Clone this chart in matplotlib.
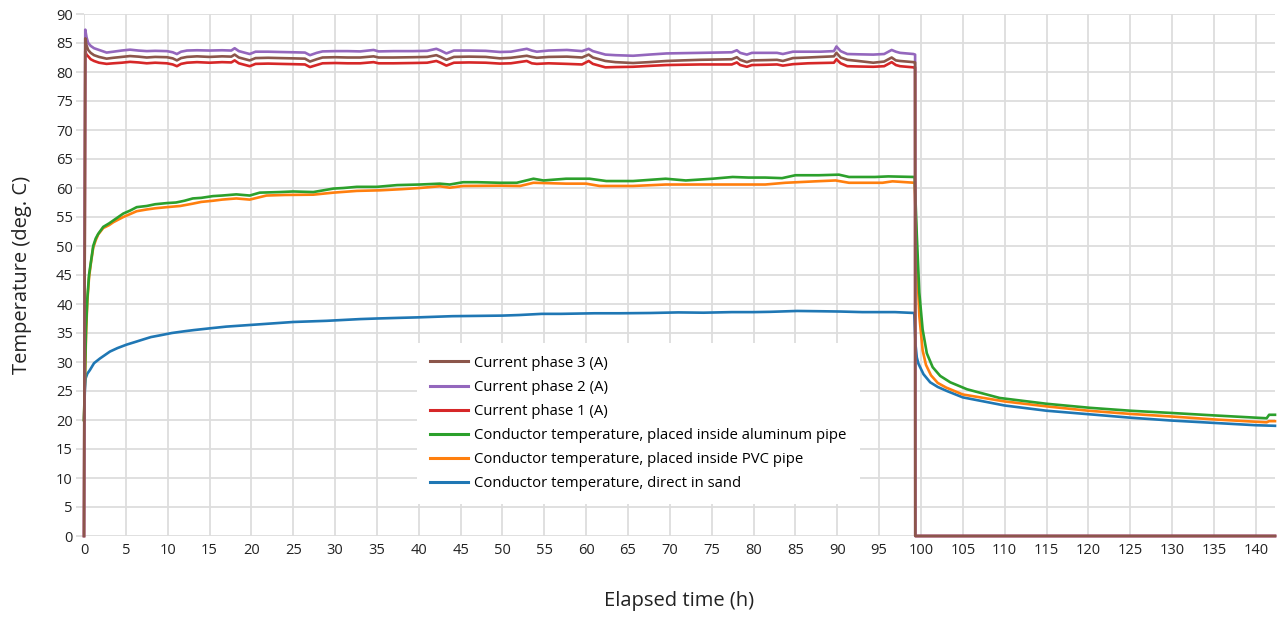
import matplotlib
matplotlib.use("Agg")
import matplotlib.pyplot as plt
from matplotlib.ticker import MultipleLocator

plt.rcParams['font.family'] = ['Open Sans', 'DejaVu Sans']

# ---- Load currents (A) ----
t_current = [0, 0.15, 0.3, 0.5, 0.8, 1.2, 1.8, 2.7, 3.5, 4.5, 5.5, 6.5, 7.5, 8.5, 9.9,
             10.6, 11.1, 11.6, 12.3, 13.5, 15.0, 16.5, 17.6, 18.0, 18.5, 19.8, 20.5,
             22.0, 23.4, 25.0, 26.4, 27.0, 27.8, 28.5, 30.0, 31.5, 33.0, 34.6, 35.2,
             37.0, 39.3, 41.0, 42.1, 42.6, 43.3, 44.2, 46.0, 48.0, 49.7, 51.0, 52.9,
             53.5, 54.1, 55.5, 57.7, 59.5, 60.3, 60.8, 62.3, 63.5, 65.6, 67.5, 69.6,
             71.5, 73.6, 75.5, 77.4, 78.0, 78.4, 79.2, 79.8, 81.5, 82.8, 83.5, 84.7,
             86.5, 88.0, 89.6, 89.9, 90.4, 91.2, 92.5, 94.3, 95.6, 96.5, 97.0, 97.5,
             99.1, 99.3, 99.32, 142.3]

phase2 = [0, 87.3, 86.0, 85.0, 84.5, 84.1, 83.8, 83.35, 83.5, 83.7, 83.85, 83.7, 83.6, 83.65, 83.6,
          83.4, 83.1, 83.5, 83.7, 83.75, 83.7, 83.75, 83.7, 84.1, 83.6, 83.1, 83.5,
          83.5, 83.45, 83.4, 83.35, 82.9, 83.3, 83.55, 83.6, 83.6, 83.55, 83.8, 83.55,
          83.6, 83.6, 83.65, 84.0, 83.7, 83.2, 83.7, 83.7, 83.65, 83.45, 83.5, 84.0,
          83.7, 83.5, 83.7, 83.8, 83.6, 84.0, 83.6, 83.0, 82.9, 82.8, 83.0, 83.2,
          83.25, 83.3, 83.35, 83.4, 83.75, 83.3, 83.0, 83.3, 83.3, 83.3, 83.1, 83.5,
          83.5, 83.5, 83.6, 84.4, 83.6, 83.1, 83.05, 83.0, 83.1, 83.8, 83.5, 83.3,
          83.1, 83.0, 0, 0]

phase3 = [0, 85.8, 84.6, 83.8, 83.3, 82.9, 82.6, 82.3, 82.45, 82.6, 82.75, 82.65, 82.5, 82.6, 82.55,
          82.35, 82.0, 82.4, 82.6, 82.7, 82.6, 82.7, 82.65, 83.0, 82.5, 82.0, 82.4,
          82.45, 82.4, 82.35, 82.3, 81.8, 82.2, 82.5, 82.55, 82.5, 82.5, 82.7, 82.5,
          82.5, 82.55, 82.6, 82.9, 82.6, 82.1, 82.6, 82.65, 82.6, 82.35, 82.45, 82.8,
          82.6, 82.45, 82.6, 82.65, 82.5, 83.0, 82.5, 81.9, 81.7, 81.55, 81.7, 81.9,
          82.0, 82.1, 82.15, 82.2, 82.55, 82.1, 81.7, 82.0, 82.05, 82.1, 81.9, 82.4,
          82.5, 82.6, 82.7, 83.3, 82.5, 82.1, 81.9, 81.6, 81.8, 82.5, 82.0, 81.9,
          81.7, 81.65, 0, 0]

phase1 = [0, 83.6, 83.0, 82.7, 82.2, 81.9, 81.6, 81.4, 81.5, 81.6, 81.75, 81.65, 81.5, 81.6, 81.5,
          81.3, 81.0, 81.4, 81.6, 81.7, 81.6, 81.7, 81.65, 82.0, 81.5, 81.0, 81.4,
          81.45, 81.4, 81.35, 81.3, 80.85, 81.2, 81.5, 81.55, 81.5, 81.5, 81.7, 81.5,
          81.5, 81.55, 81.6, 81.9, 81.6, 81.1, 81.6, 81.65, 81.6, 81.45, 81.5, 81.9,
          81.5, 81.4, 81.5, 81.4, 81.3, 81.9, 81.4, 80.8, 80.85, 80.9, 81.05, 81.2,
          81.25, 81.3, 81.3, 81.3, 81.65, 81.2, 80.9, 81.2, 81.25, 81.3, 81.1, 81.35,
          81.5, 81.55, 81.6, 82.2, 81.5, 81.0, 80.95, 80.9, 81.0, 81.7, 81.2, 81.0,
          80.8, 80.8, 0, 0]

# ---- Conductor temperatures (deg. C) ----
t_alu = [0, 0.1, 0.25, 0.4, 0.6, 0.8, 1.1, 1.4, 1.7, 2.3, 3.0, 3.5, 4.7, 5.5, 6.3, 7.5,
         8.5, 9.9, 11.0, 12.0, 13.0, 14.0, 15.4, 16.5, 18.2, 19.8, 21.0, 23.4, 25.0,
         27.4, 29.8, 31.0, 32.6, 35.0, 37.4, 40.1, 42.5, 43.7, 45.3, 47.0, 49.7, 51.7,
         53.7, 54.9, 57.6, 60.4, 62.4, 65.6, 69.5, 71.9, 75.1, 77.5, 79.4, 81.4, 83.4,
         85.0, 87.8, 90.2, 91.4, 94.5, 96.1, 99.25, 99.5, 99.8, 100.2, 100.7, 101.4,
         102.3, 103.5, 105.5, 109.4, 115.0, 120.2, 125.0, 130.1, 134.9, 141.3, 141.6, 142.3]
alu_pipe = [20.0, 27.0, 36.0, 41.0, 45.0, 47.0, 50.0, 51.3, 52.1, 53.3, 53.9, 54.4, 55.6, 56.1, 56.7, 56.9,
            57.2, 57.4, 57.5, 57.8, 58.2, 58.3, 58.6, 58.7, 58.9, 58.7, 59.2, 59.3, 59.4,
            59.3, 59.9, 60.0, 60.2, 60.2, 60.5, 60.6, 60.75, 60.6, 61.0, 61.0, 60.9, 60.9,
            61.6, 61.3, 61.6, 61.6, 61.2, 61.2, 61.6, 61.3, 61.6, 61.9, 61.8, 61.8, 61.7,
            62.2, 62.2, 62.3, 61.9, 61.9, 62.0, 61.9, 52.0, 42.0, 35.6, 31.5, 29.1,
            27.6, 26.5, 25.3, 23.8, 22.8, 22.1, 21.6, 21.2, 20.8, 20.3, 20.9, 20.9]

t_pvc = [0, 0.1, 0.25, 0.4, 0.6, 0.8, 1.1, 1.4, 1.7, 2.3, 3.0, 3.5, 4.7, 5.5, 6.3, 7.5,
         8.5, 9.9, 11.5, 13.0, 14.0, 15.4, 16.5, 18.2, 19.8, 21.8, 24.0, 27.4, 29.8,
         32.6, 35.4, 38.0, 40.1, 42.5, 43.7, 45.3, 49.7, 52.1, 53.7, 57.6, 60.0, 61.6,
         65.6, 69.5, 73.5, 77.5, 81.4, 83.8, 87.4, 89.8, 91.4, 95.4, 96.6, 99.25, 99.5,
         99.8, 100.2, 100.6, 101.2, 102.0, 103.0, 105.0, 110.0, 115.0, 120.0, 125.0,
         130.0, 135.0, 140.0, 141.3, 141.6, 142.3]
pvc_pipe = [20.0, 26.0, 35.0, 40.5, 44.5, 46.8, 49.7, 51.0, 52.0, 53.1, 53.6, 54.1, 55.0, 55.5, 56.0, 56.3,
            56.5, 56.7, 56.9, 57.3, 57.6, 57.8, 58.0, 58.2, 58.0, 58.7, 58.8, 58.85, 59.2,
            59.5, 59.6, 59.8, 60.0, 60.3, 60.05, 60.35, 60.4, 60.35, 60.9, 60.75, 60.75, 60.35,
            60.35, 60.6, 60.6, 60.6, 60.6, 60.9, 61.15, 61.3, 60.9, 60.9, 61.15, 60.9, 48.0,
            38.0, 32.0, 29.5, 27.7, 26.4, 25.6, 24.4, 23.2, 22.35, 21.6, 21.05,
            20.6, 20.1, 19.7, 19.6, 19.8, 19.8]

t_sand = [0, 0.1, 0.2, 0.4, 0.7, 1.2, 1.9, 2.5, 3.1, 4.0, 5.1, 6.0, 7.1, 8.0, 9.1, 10.5,
          12.0, 13.1, 15.0, 17.0, 19.0, 21.0, 23.0, 25.0, 27.0, 29.0, 31.0, 33.0, 35.0,
          37.4, 40.0, 42.0, 44.0, 47.0, 50.0, 52.0, 54.7, 57.0, 59.0, 61.0, 64.0, 67.7,
          71.0, 74.0, 77.4, 80.0, 82.0, 85.2, 88.0, 90.4, 93.0, 96.9, 99.2, 99.35, 99.5,
          99.7, 100.3, 101.1, 102.0, 103.1, 105.0, 110.0, 115.0, 120.0, 125.0, 130.0,
          135.0, 140.0, 142.3]
direct_sand = [20.0, 25.0, 27.2, 28.0, 28.6, 29.8, 30.6, 31.2, 31.8, 32.4, 33.0, 33.4, 33.9, 34.3, 34.6, 35.0,
               35.3, 35.5, 35.8, 36.1, 36.3, 36.5, 36.7, 36.9, 37.0, 37.1, 37.25, 37.4, 37.5,
               37.6, 37.7, 37.8, 37.9, 37.95, 38.0, 38.1, 38.3, 38.3, 38.35, 38.4, 38.4, 38.45,
               38.55, 38.5, 38.6, 38.6, 38.65, 38.8, 38.75, 38.7, 38.6, 38.6, 38.45, 33.0, 30.8,
               29.7, 27.9, 26.5, 25.7, 25.0, 23.9, 22.5, 21.6, 21.0, 20.4, 19.9,
               19.5, 19.1, 19.0]

labels = ["Conductor temperature, direct in sand",
          "Conductor temperature, placed inside PVC pipe",
          "Conductor temperature, placed inside aluminum pipe",
          "Current phase 1 (A)",
          "Current phase 2 (A)",
          "Current phase 3 (A)"]
colors = ["#1f77b4", "#ff7f0e", "#2ca02c", "#d62728", "#9467bd", "#8c564b"]

series = [(t_sand, direct_sand), (t_pvc, pvc_pipe), (t_alu, alu_pipe),
          (t_current, phase1), (t_current, phase2), (t_current, phase3)]

W, H = 1279, 617
fig = plt.figure(figsize=(W / 100, H / 100), dpi=100)
ax = fig.add_axes([84 / W, 81 / H, (1275 - 84) / W, (603 - 81) / H])

handles = []
for (tx, vy), lab, col in zip(series, labels, colors):
    ln, = ax.plot(tx, vy, color=col, lw=1.9, label=lab, clip_on=False,
                  solid_joinstyle='round')
    handles.append(ln)

ax.set_xlim(0, 142.3)
ax.set_ylim(0, 90)
ax.xaxis.set_major_locator(MultipleLocator(5))
ax.yaxis.set_major_locator(MultipleLocator(5))
ax.grid(True, color="#dddddd", lw=1.3)
ax.set_axisbelow(True)
for s in ax.spines.values():
    s.set_visible(False)
ax.tick_params(axis='y', length=6, width=1.3, color="#dddddd", pad=2,
               labelsize=10.5, labelcolor="#222222")
ax.tick_params(axis='x', length=0, pad=5, labelsize=10.5, labelcolor="#222222")

ax.set_xlabel("Elapsed time (h)", fontsize=14.5, color="#222222", labelpad=24)
ax.set_ylabel("Temperature (deg. C)", fontsize=14.5, color="#222222", labelpad=17)

leg = ax.legend(handles[::-1], labels[::-1], loc='upper left',
                bbox_to_anchor=(417 / W, 1 - 343 / H), bbox_transform=fig.transFigure,
                frameon=True, fancybox=False, facecolor='white', edgecolor='none',
                framealpha=1.0, fontsize=10.75, handlelength=2.55, handletextpad=0.45,
                labelspacing=0.61, borderpad=0.85, borderaxespad=0)
for l in leg.get_lines():
    l.set_linewidth(2.2)
leg.set_zorder(5)

fig.savefig("out.png", dpi=100)
